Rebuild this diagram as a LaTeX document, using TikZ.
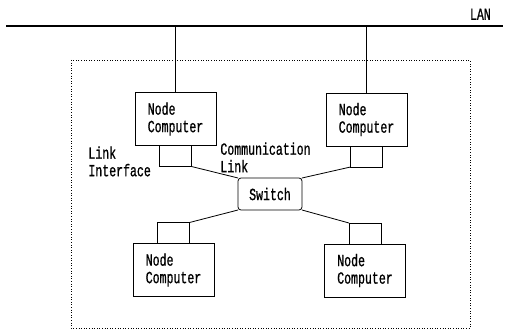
\documentclass[tikz,border=0pt]{standalone}
\usepackage{fontspec}
\usepackage{tikz}
\usetikzlibrary{positioning}
\newfontfamily\labelfont[FakeStretch=0.68,FakeBold=0.8]{Liberation Mono}

\begin{document}
\begin{tikzpicture}[x=1pt, y=-1pt, font=\labelfont\fontsize{17}{17.5}\selectfont]
    \tikzstyle{computer} = [draw, line width=0.8pt, rectangle, minimum width=81pt,
	minimum height=53pt, align=left, outer sep=0pt]
    \tikzstyle{iface} = [draw, line width=0.8pt, rectangle, minimum width=32pt,
	minimum height=21pt, inner sep=0pt, outer sep=0pt]
    \tikzstyle{switchbox} = [draw, line width=0.8pt, rectangle, rounded corners=3pt,
	minimum width=64pt, minimum height=32pt, outer sep=0pt]
    \tikzstyle{label} = [align=left, inner sep=0pt, anchor=north west]

	\useasboundingbox (0,0) rectangle (511,329);

	% the LAN bus
	\coordinate (lanW) at (6,26);
	\coordinate (lanE) at (503,26);
	\draw[line width=1.6pt] (lanW) -- (lanE);
	\node[anchor=south east, inner sep=2pt] (lan) at (493,22) {LAN};

	% boundary of the cluster
	\draw[dotted, line width=0.6pt] (71,60) rectangle (470,328);

	\begin{scope}
		\path[-, line width=0.8pt]
			node[computer] (TL) at (175.5,119) {Node\\Computer}
			node[computer] (TR) at (366.5,119.5) {Node\\Computer}
			node[computer] (BL) at (173.5,270) {Node\\Computer}
			node[computer] (BR) at (365,270.5) {Node\\Computer}

			node[iface, below=0pt of TL] (TLi) {}
			node[iface, below=0pt of TR] (TRi) {}
			node[iface, above=0pt of BL] (BLi) {}
			node[iface, above=0pt of BR] (BRi) {}

			node[switchbox] (SW) at (270,194) {Switch}

			node[label] (li) at (88,146) {Link\\Interface}
			node[label] (cl) at (220,142) {Communication\\Link}

			(TL.north) edge (TL.north |- lanW)
			(TR.north) edge (TR.north |- lanW)

			(TLi.south east) edge (SW.north west)
			(TRi.south west) edge (SW.north east)
			(BLi.north east) edge (SW.south west)
			(BRi.north west) edge (SW.south east)
		;
	\end{scope}
\end{tikzpicture}
\end{document}
